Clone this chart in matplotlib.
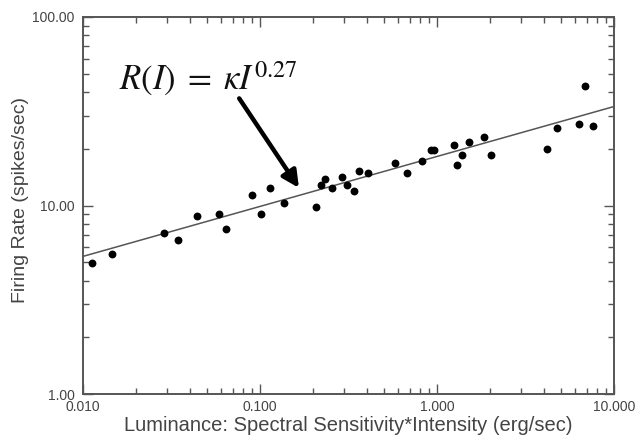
import matplotlib
matplotlib.use("Agg")
import matplotlib.pyplot as plt
from matplotlib.ticker import LogLocator, FuncFormatter, NullFormatter

plt.rcParams['font.family'] = ['Liberation Sans', 'DejaVu Sans']
plt.rcParams['mathtext.fontset'] = 'stix'

# luminance (erg/sec) and firing rate (spikes/sec)
luminance = [0.0112, 0.0146, 0.0288, 0.0343, 0.0441, 0.0586, 0.0645, 0.0905,
             0.101, 0.114, 0.137, 0.207, 0.220, 0.233, 0.254, 0.292, 0.311,
             0.341, 0.364, 0.407, 0.576, 0.679, 0.826, 0.925, 0.958, 1.25,
             1.30, 1.39, 1.51, 1.85, 2.01, 4.18, 4.76, 6.37, 6.89, 7.60]
firing_rate = [4.94, 5.53, 7.17, 6.56, 8.77, 9.04, 7.47, 11.37,
               8.98, 12.42, 10.31, 9.85, 12.84, 13.77, 12.38, 14.12, 12.80,
               11.89, 15.30, 14.93, 16.87, 14.82, 17.16, 19.69, 19.69, 21.0,
               16.34, 18.53, 21.7, 23.0, 18.53, 20.0, 25.8, 27.2, 43.2, 26.3]

# power-law fit R = k * I^b
fit_k = 18.2
fit_b = 0.265
fit_x = [0.01, 10.0]

fig = plt.figure(figsize=(6.36, 4.40), dpi=100)
ax = fig.add_axes([0.1305, 0.1045, 0.8349, 0.8569])

ax.plot(fit_x, [fit_k * x ** fit_b for x in fit_x], color='#555555', lw=1.1, zorder=2)
ax.scatter(luminance, firing_rate, s=32, color='black', zorder=3, linewidths=0)

ax.set_xscale('log')
ax.set_yscale('log')
ax.set_xlim(0.01, 10)
ax.set_ylim(1, 100)

ax.xaxis.set_major_locator(LogLocator(base=10))
ax.yaxis.set_major_locator(LogLocator(base=10))
ax.xaxis.set_minor_locator(LogLocator(base=10, subs=range(2, 10)))
ax.yaxis.set_minor_locator(LogLocator(base=10, subs=range(2, 10)))
ax.xaxis.set_major_formatter(FuncFormatter(lambda v, p: f"{v:.3f}"))
ax.yaxis.set_major_formatter(FuncFormatter(lambda v, p: f"{v:.2f}"))
ax.xaxis.set_minor_formatter(NullFormatter())
ax.yaxis.set_minor_formatter(NullFormatter())

gray = '#555555'
ax.tick_params(which='both', direction='in', top=True, right=True, colors=gray,
               labelcolor='#444444', labelsize=10, width=1)
ax.tick_params(which='major', length=7)
ax.tick_params(which='minor', length=4)
ax.tick_params(axis='x', pad=4)
ax.tick_params(axis='y', pad=6)
for sp in ax.spines.values():
    sp.set_color(gray)
    sp.set_linewidth(1.4)

ax.set_xlabel("Luminance: Spectral Sensitivity*Intensity (erg/sec)", fontsize=14.5,
              color='#444444', labelpad=2)
ax.set_ylabel("Firing Rate (spikes/sec)", fontsize=14, color='#444444')
ax.yaxis.set_label_coords(-0.102, 0.515)

ax.annotate('', xy=(0.166, 12.4), xytext=(0.0763, 37.0),
            arrowprops=dict(arrowstyle='-|>,head_length=1.0,head_width=0.5',
                            lw=3.2, color='black', shrinkA=0, shrinkB=0))
ax.text(0.0508, 41, r'$R(I)\;=\;\kappa I^{0.27}$', fontsize=25, ha='center',
        va='baseline', color='#111111')

fig.savefig('out.png', dpi=100)
